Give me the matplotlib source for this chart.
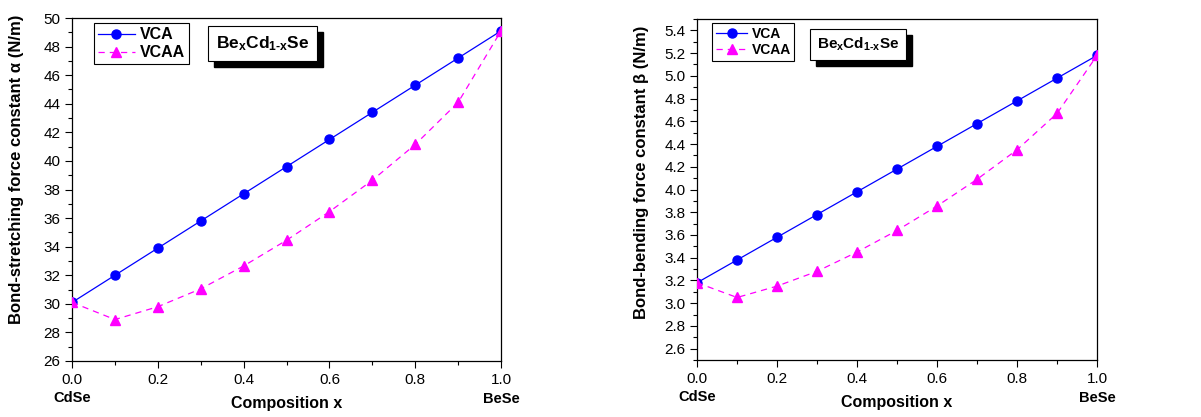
import matplotlib
matplotlib.use("Agg")
import matplotlib.pyplot as plt
from matplotlib.ticker import MultipleLocator
from matplotlib import transforms

plt.rcParams['font.family'] = ['Liberation Sans', 'DejaVu Sans']
plt.rcParams['mathtext.fontset'] = 'custom'
plt.rcParams['mathtext.rm'] = 'Liberation Sans:bold'
plt.rcParams['mathtext.it'] = 'Liberation Sans:bold'
plt.rcParams['mathtext.bf'] = 'Liberation Sans:bold'

# composition x of Be_xCd_(1-x)Se
x = [0.0, 0.1, 0.2, 0.3, 0.4, 0.5, 0.6, 0.7, 0.8, 0.9, 1.0]

# bond-stretching force constant alpha (N/m)
alpha_vca = [30.1, 32.0, 33.9, 35.8, 37.7, 39.6, 41.5, 43.4, 45.3, 47.2, 49.1]
alpha_vcaa = [30.1, 28.9, 29.8, 31.05, 32.65, 34.45, 36.45, 38.65, 41.15, 44.1, 49.1]

# bond-bending force constant beta (N/m)
beta_vca = [3.18, 3.38, 3.58, 3.78, 3.98, 4.18, 4.38, 4.58, 4.78, 4.98, 5.18]
beta_vcaa = [3.18, 3.05, 3.15, 3.28, 3.45, 3.64, 3.855, 4.09, 4.35, 4.67, 5.18]

fig = plt.figure(figsize=(12.01, 4.17), dpi=100)
ax1 = fig.add_axes([0.0600, 0.1343, 0.3572, 0.8225])
ax2 = fig.add_axes([0.5804, 0.1367, 0.3331, 0.8177])


def draw_panel(ax, vca, vcaa, ylim, major, minor, ylabel, leg_anchor, leg_size,
               box_pos, box_size, ylab_pos):
    ax.plot(x, vca, color='#0000ff', lw=0.9, marker='o', ms=6.5, label='VCA', zorder=3)
    ax.plot(x, vcaa, color='#ff00ff', lw=0.9, ls=(0, (5, 4)), marker='^', ms=6.5,
            label='VCAA', zorder=3)
    ax.set_xlim(0, 1)
    ax.set_ylim(*ylim)
    ax.xaxis.set_major_locator(MultipleLocator(0.2))
    ax.xaxis.set_minor_locator(MultipleLocator(0.1))
    ax.yaxis.set_major_locator(MultipleLocator(major))
    ax.yaxis.set_minor_locator(MultipleLocator(minor))
    ax.xaxis.set_major_formatter(matplotlib.ticker.FormatStrFormatter('%.1f'))
    ax.yaxis.set_major_formatter(matplotlib.ticker.FormatStrFormatter('%.1f' if major < 1 else '%d'))
    ax.tick_params(which='major', direction='out', length=5, width=0.8, labelsize=11)
    ax.tick_params(which='minor', direction='out', length=3, width=0.8)
    for s in ax.spines.values():
        s.set_linewidth(0.9)

    ax.set_ylabel(ylabel, fontsize=12, fontweight='bold')
    ax.yaxis.set_label_coords(*ylab_pos)
    ax.set_xlabel('Composition x', fontsize=11.5, fontweight='bold')
    ax.xaxis.set_label_coords(0.5, -0.102)
    ax.xaxis.label.set_va('top')

    # end-member compounds under the axis
    trans = transforms.blended_transform_factory(ax.transData, ax.transAxes)
    ax.text(0.0, -0.108, 'CdSe', transform=trans, ha='center', va='center',
            fontsize=10.5, fontweight='bold')
    ax.text(1.0, -0.112, 'BeSe', transform=trans, ha='center', va='center',
            fontsize=10.5, fontweight='bold')

    leg = ax.legend(loc='upper left', bbox_to_anchor=leg_anchor, borderaxespad=0,
                    fancybox=False, framealpha=1, edgecolor='black', handlelength=2.3,
                    fontsize=leg_size, borderpad=0.25,
                    labelspacing=0.2, handletextpad=0.3)
    leg.get_frame().set_linewidth(0.8)
    for t in leg.get_texts():
        t.set_fontweight('bold')

    # label box with drop shadow
    label = 'Be$_{x}$Cd$_{1\u2010x}$Se'
    shadow = transforms.offset_copy(ax.transAxes, fig=fig, x=6, y=-6, units='dots')
    ax.text(*box_pos, label, transform=shadow, ha='center', va='center', fontsize=box_size,
            fontweight='bold', color='none',
            bbox=dict(boxstyle='square,pad=0.45', fc='black', ec='black'))
    ax.text(*box_pos, label, transform=ax.transAxes, ha='center', va='center', fontsize=box_size,
            fontweight='bold',
            bbox=dict(boxstyle='square,pad=0.45', fc='white', ec='black', lw=0.8))


draw_panel(ax1, alpha_vca, alpha_vcaa, (26, 50), 2, 1,
           'Bond-stretching force constant \u03b1 (N/m)',
           (0.051, 0.985), 11.5, (0.444, 0.926), 12.5, (-0.112, 0.56))
draw_panel(ax2, beta_vca, beta_vcaa, (2.5, 5.5), 0.2, 0.1,
           'Bond-bending force constant \u03b2 (N/m)',
           (0.0375, 0.988), 10, (0.4025, 0.925), 11, (-0.12, 0.551))

fig.savefig('out.png', dpi=100)
